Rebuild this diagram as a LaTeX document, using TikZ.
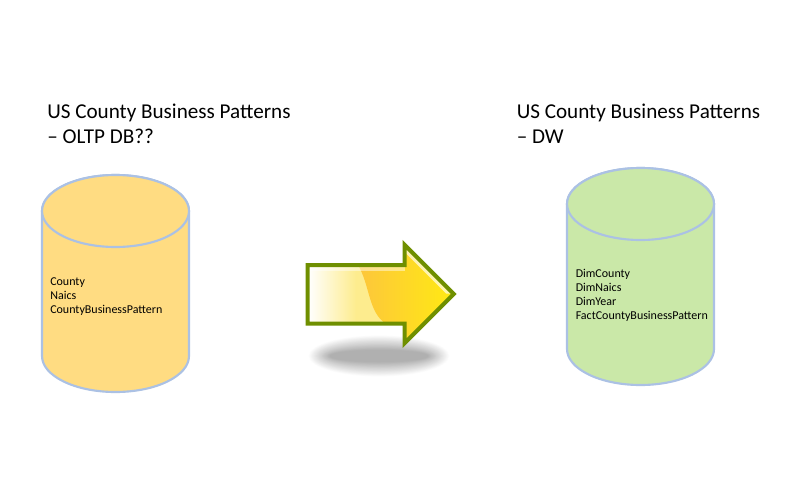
\documentclass[tikz,border=0pt]{standalone}
\usepackage{fontspec}
\setmainfont{Carlito}
\definecolor{cylline}{HTML}{ABC1E4}
\definecolor{cylorange}{HTML}{FFDC82}
\definecolor{cylgreen}{HTML}{CAE8A8}
\definecolor{arrowline}{HTML}{6F8F00}
\definecolor{arrowpale}{HTML}{FDEC8E}
\definecolor{arroworange}{HTML}{FDC63C}
\definecolor{arrowyellow}{HTML}{FFEC10}
\definecolor{shadowgrey}{HTML}{B0B0B0}
\tikzset{
  x=0.75pt,y=-0.75pt,
  title/.style={anchor=north west,align=left,inner sep=0pt,font=\fontsize{15.85pt}{18.4pt}\selectfont,text=black},
  tablelist/.style={anchor=north west,align=left,inner sep=0pt,font=\fontsize{9pt}{10.5pt}\selectfont,text=black},
  cylbody/.style={draw=cylline,line width=1.6pt}
}
\begin{document}
\begin{tikzpicture}
\useasboundingbox (0,0) rectangle (787,496);
\fill[white] (0,0) rectangle (787,496);
% left cylinder
\path[cylbody,fill=cylorange] (42,211) -- (42,356) arc[x radius=73.5,y radius=36,start angle=180,end angle=0] -- (189,211) arc[x radius=73.5,y radius=36,start angle=0,end angle=-180] -- cycle;
\path[cylbody,fill=cylorange] (115.5,211) ellipse[x radius=73.5,y radius=36];
% right cylinder
\path[cylbody,fill=cylgreen] (567,204) -- (567,349) arc[x radius=73.5,y radius=36,start angle=180,end angle=0] -- (714,204) arc[x radius=73.5,y radius=36,start angle=0,end angle=-180] -- cycle;
\path[cylbody,fill=cylgreen] (640.5,204) ellipse[x radius=73.5,y radius=36];
% titles
\node[title] (t1) at (47,104) {US County Business Patterns\\– OLTP DB??};
\node[title] (t2) at (516.5,104) {US County Business Patterns\\– DW};
% lists
\node[tablelist] (l1) at (50,277) {County\\Naics\\CountyBusinessPattern};
\node[tablelist] (l2) at (575.5,269) {DimCounty\\DimNaics\\DimYear\\FactCountyBusinessPattern};
% shadow: soft edge built from nested ellipses
\foreach \s in {0,4,...,100}{
  \fill[shadowgrey!\s!white] (379,356) ellipse[x radius={71-0.22*\s},y radius={21-0.15*\s}];
}
% arrow
\begin{scope}
\clip (307.7,265) -- (404.5,265) -- (404.5,244.7) -- (453.8,294) -- (404.5,343.3) -- (404.5,323.7) -- (307.7,323.7) -- cycle;
\shade[left color=white,right color=arrowpale] (308,240) rectangle (356,350);
\fill[arrowpale] (356,240) rectangle (460,350);
\shade[left color=arroworange,right color=arrowyellow]
  (358,240) -- (358,265) .. controls (370,285) and (368,312) .. (386,324) -- (386,350) -- (460,350) -- (460,240) -- cycle;
\fill[white,opacity=.45] (307,265) rectangle (404.5,271);
\fill[white,opacity=.65] (404.5,247) -- (451,293.5) -- (446,293.5) -- (404.5,252) -- cycle;
\end{scope}
\draw[arrowline,line width=3pt,miter limit=10] (307.7,265) -- (404.5,265) -- (404.5,244.7) -- (453.8,294) -- (404.5,343.3) -- (404.5,323.7) -- (307.7,323.7) -- cycle;
\end{tikzpicture}
\end{document}
